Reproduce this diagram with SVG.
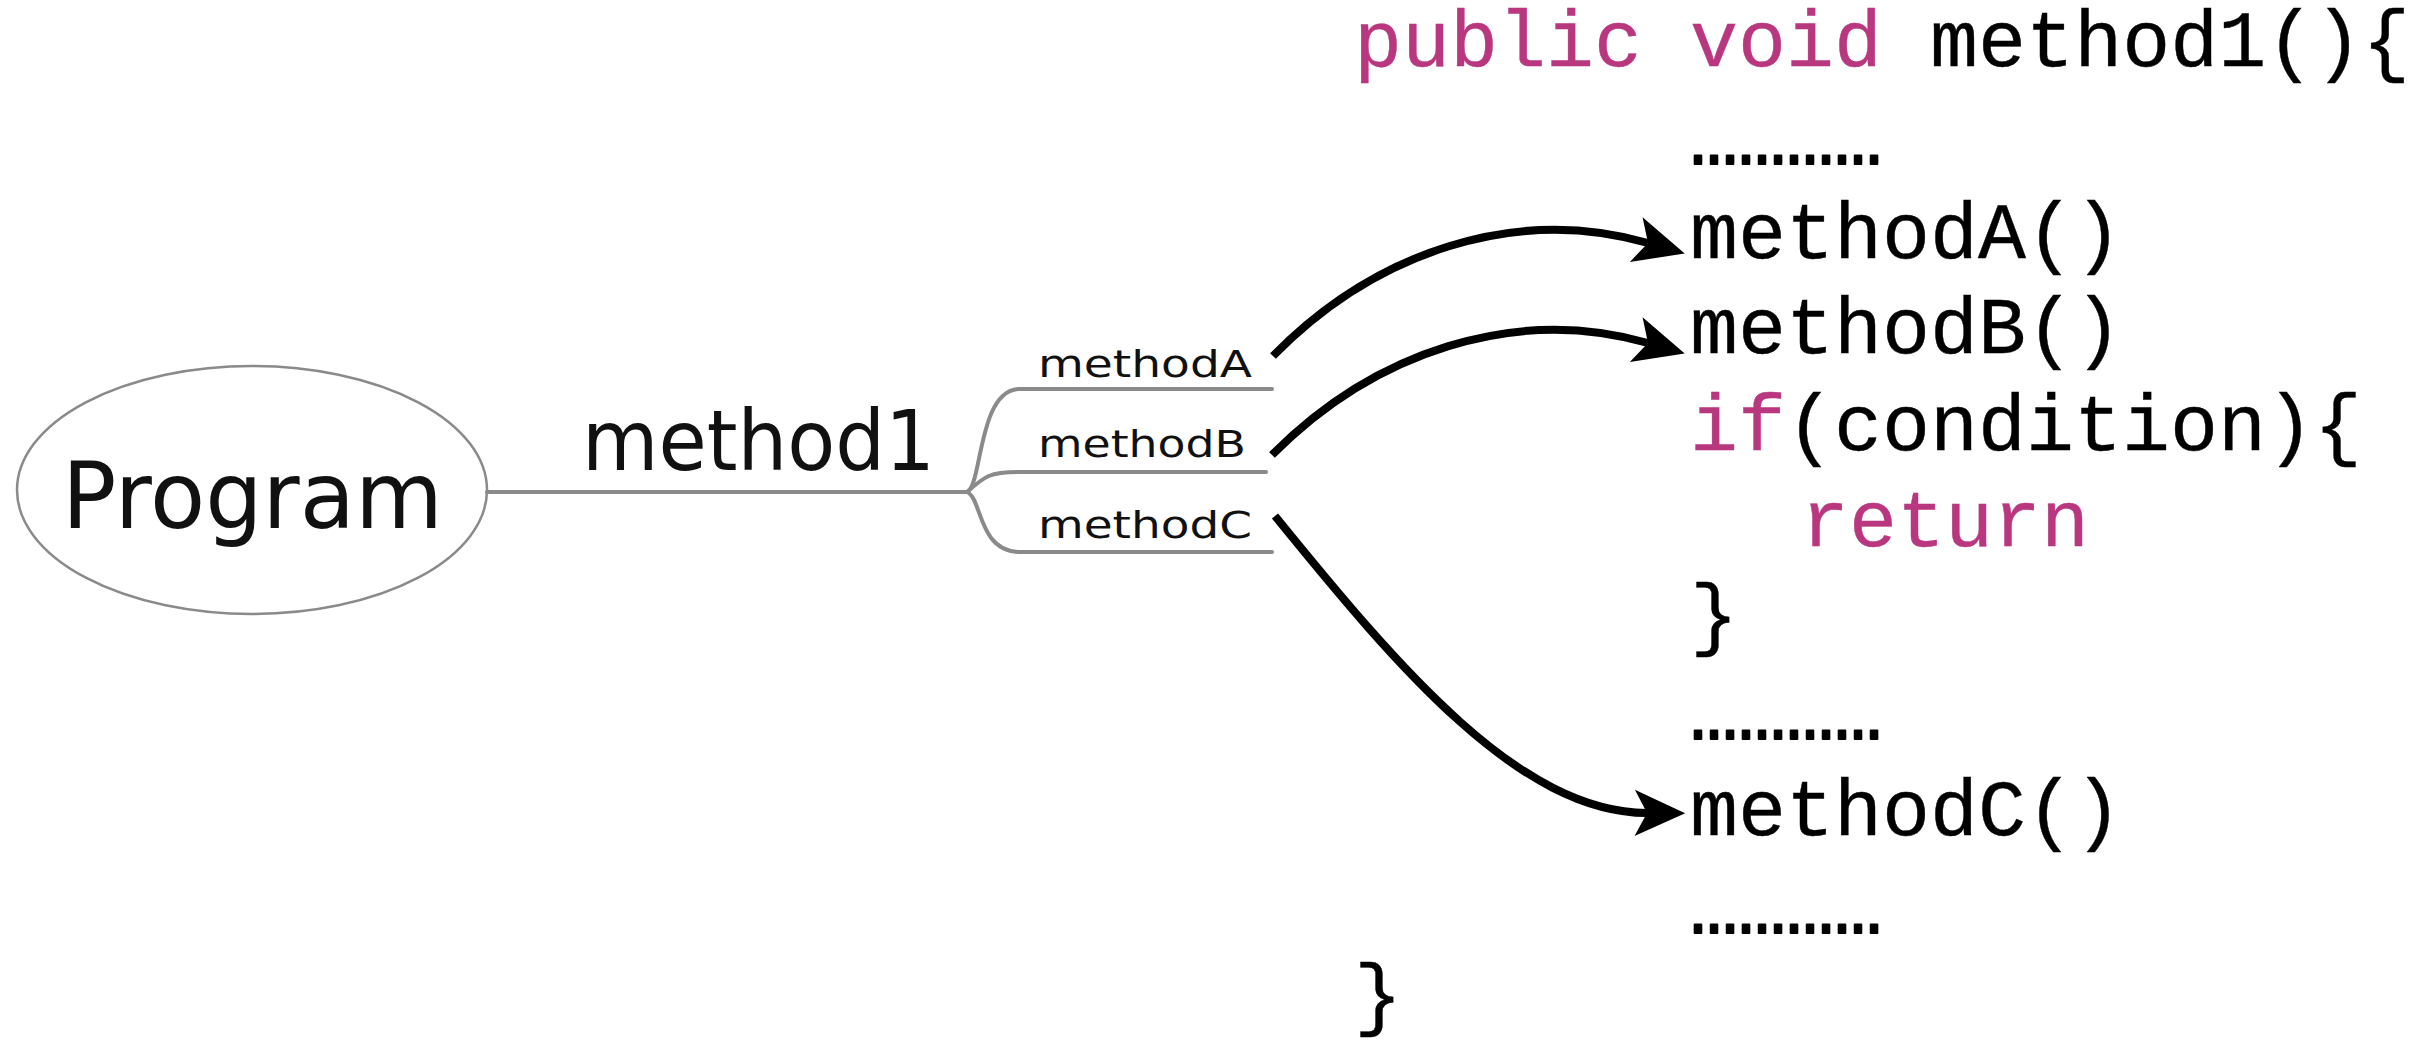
<svg xmlns="http://www.w3.org/2000/svg" width="2435" height="1041" viewBox="0 0 2435 1041">
  <style>
    .map { font-family: "DejaVu Sans", "Liberation Sans", sans-serif; fill: #111; }
    .branch { fill: none; stroke: #8a8a8a; stroke-width: 4; stroke-linecap: round; }
    .code { font-family: "Liberation Mono", "DejaVu Sans Mono", monospace; font-size: 80px; fill: #000; stroke: #000; stroke-width: 0.4; }
    .dots { stroke-width: 1.8; stroke-linejoin: round; }
    .kw { fill: #b8377f; stroke: #b8377f; }
    .arrow { fill: none; stroke: #000; stroke-width: 8; }
  </style>
  <defs>
    <marker id="head" markerUnits="userSpaceOnUse" markerWidth="60" markerHeight="60" viewBox="-12 -20 44 40" refX="0" refY="0" orient="auto">
      <path d="M28,0 L-9,-17 L0,0 L-9,17 Z" fill="#000"/>
    </marker>
  </defs>
  <rect width="2435" height="1041" fill="#fff"/>

  <!-- mind map: root node -->
  <g id="program">
    <ellipse cx="252" cy="490" rx="235" ry="124" fill="#fff" stroke="#8a8a8a" stroke-width="2.5"/>
    <text class="map" x="62" y="528" font-size="93" textLength="381" lengthAdjust="spacingAndGlyphs">Program</text>
  </g>

  <!-- mind map: method1 branch -->
  <g id="method1">
    <path class="branch" d="M487,492 L967,492"/>
    <text class="map" x="582" y="470" font-size="84" textLength="353" lengthAdjust="spacingAndGlyphs">method1</text>
  </g>

  <g id="methodA-node">
    <path class="branch" d="M967,492 C982,486 978,392 1018,389 L1272,389"/>
    <text class="map" x="1038" y="377" font-size="38" textLength="214" lengthAdjust="spacingAndGlyphs">methodA</text>
  </g>
  <g id="methodB-node">
    <path class="branch" d="M967,492 C985,476 990,472 1018,472 L1266,472"/>
    <text class="map" x="1038" y="457" font-size="38" textLength="208" lengthAdjust="spacingAndGlyphs">methodB</text>
  </g>
  <g id="methodC-node">
    <path class="branch" d="M967,492 C982,498 978,550 1018,552 L1272,552"/>
    <text class="map" x="1038" y="538" font-size="38" textLength="214" lengthAdjust="spacingAndGlyphs">methodC</text>
  </g>

  <!-- source listing -->
  <g id="code">
    <text class="code" x="1354" y="66"><tspan class="kw">public void</tspan> method1(){</text>
    <text class="code dots" x="1690" y="164">…………</text>
    <text class="code" x="1690" y="258">methodA()</text>
    <text class="code" x="1690" y="353">methodB()</text>
    <text class="code" x="1690" y="450"><tspan class="kw">if</tspan>(condition){</text>
    <text class="code kw" x="1801" y="546">return</text>
    <text class="code" x="1690" y="640">}</text>
    <text class="code dots" x="1690" y="739">…………</text>
    <text class="code" x="1690" y="835">methodC()</text>
    <text class="code dots" x="1690" y="933">…………</text>
    <text class="code" x="1354" y="1020">}</text>
  </g>

  <!-- call arrows -->
  <g id="connectors">
    <path class="arrow" d="M1273,356 C1375,252 1515,205 1648,243" marker-end="url(#head)"/>
    <path class="arrow" d="M1272,455 C1374,352 1515,305 1648,343" marker-end="url(#head)"/>
    <path class="arrow" d="M1275,516 C1400,670 1520,812 1647,813" marker-end="url(#head)"/>
  </g>
</svg>
